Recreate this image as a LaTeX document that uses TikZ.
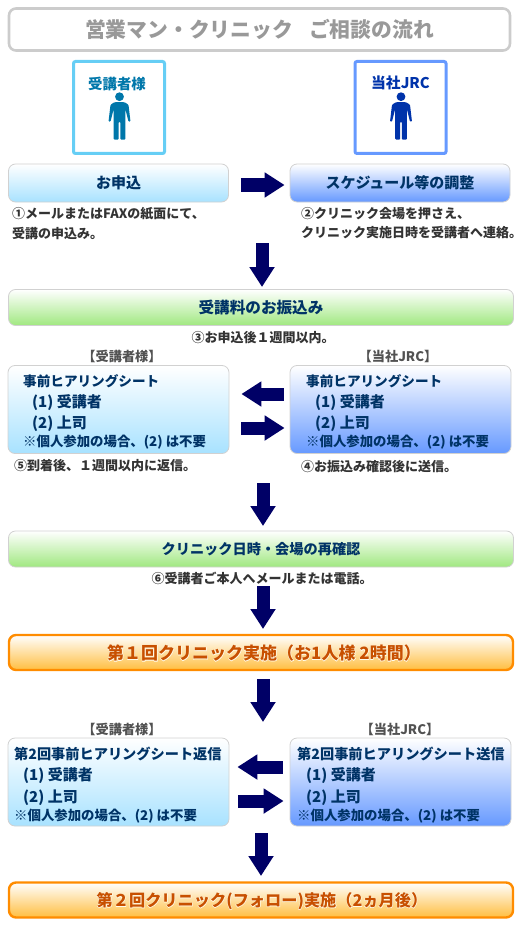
\documentclass[tikz,border=0pt]{standalone}
\usepackage{fontspec}
\setmainfont{Noto Sans CJK JP}
\usetikzlibrary{arrows.meta,calc}
\definecolor{navy}{HTML}{000066}
\definecolor{ink}{HTML}{003366}
\definecolor{cap}{HTML}{333333}
\definecolor{lightblue}{HTML}{A8E2FF}
\definecolor{midblue}{HTML}{6699FF}
\definecolor{leaf}{HTML}{A0E880}
\definecolor{amber}{HTML}{FFBE40}
\definecolor{orangeline}{HTML}{FF8C00}
\definecolor{burnt}{HTML}{C85000}
\definecolor{halo}{HTML}{FFFBEA}
\definecolor{teal}{HTML}{0077AA}
\definecolor{royal}{HTML}{0033AA}
\newcommand{\fsz}[1]{\fontsize{#1}{#1}\selectfont\bfseries}
\tikzset{
  base/.style={x=1pt,y=-1pt},
  panel/.style={rounded corners=7pt,draw=black!18,line width=.8pt,inner sep=0pt,font=\fsz{15},text=ink},
  bluepanel/.style={panel,top color=white,bottom color=lightblue},
  deeppanel/.style={panel,top color=white,bottom color=midblue},
  greenpanel/.style={panel,top color=white,bottom color=leaf},
  orangepanel/.style={rounded corners=7pt,draw=orangeline,line width=2.4pt,top color=white,bottom color=amber,inner sep=0pt},
  persona/.style={draw=#1,line width=3pt,rounded corners=2pt,minimum width=91pt,minimum height=92pt,inner sep=0pt},
  blockarrow/.style={draw=navy,line width=13pt,-{Triangle[length=20pt,width=24pt,fill=navy]}},
  caption/.style={inner sep=0pt,font=\fsz{13},text=cap},
  sheet/.style={inner sep=0pt,align=left,anchor=north west,text=ink,font=\fsz{14}},
  sidehead/.style={inner sep=0pt,font=\fsz{13.2},text=cap!85!white},
  clinic/.style={inner sep=0pt,font=\fsz{#1},text=burnt},
  clinichalo/.style={inner sep=0pt,font=\fsz{#1}\addfontfeature{FakeBold=5},text=halo},
}
\newcommand{\sheettext}[2]{{\fsz{#1}#2}\\[5.8pt]\hspace*{9pt}{\fsz{15}(1) 受講者}\\[4.8pt]\hspace*{9pt}{\fsz{15}(2) 上司}\\[2.2pt]{\fsz{13.4}※個人参加の場合、(2) は不要}}
\newcommand{\personfig}[3]{%
  \fill[#3] (#1,#2) circle (4.4pt);
  \fill[#3,rounded corners=1pt] (#1-5,#2+5.5) -- (#1+5,#2+5.5) -- (#1+9,#2+8) -- (#1+11,#2+25) -- (#1+9,#2+25) -- (#1+6,#2+13) -- (#1+5.8,#2+43) -- (#1+.8,#2+43) -- (#1+.8,#2+25) -- (#1-.8,#2+25) -- (#1-.8,#2+43) -- (#1-5.8,#2+43) -- (#1-6,#2+13) -- (#1-9,#2+25) -- (#1-11,#2+25) -- (#1-9,#2+8) -- cycle;
}
\begin{document}
\begin{tikzpicture}[base]
\useasboundingbox (0,0) rectangle (522,928);
% title
\node[draw=black!20,line width=2.6pt,rounded corners=7pt,minimum width=501pt,minimum height=42pt,inner sep=0pt,text=black!40,font=\fsz{20.8}] (title) at (259.5,29.5) {営業マン・クリニック\hspace{16pt}ご相談の流れ};
% persons
\node[persona={cyan!60!white}] (pa) at (119,107.5) {};
\node[persona=midblue] (pb) at (400.5,107.5) {};
\node[inner sep=0pt,font=\fsz{14.4},text=teal] (pal) at (117,84) {受講者様};
\node[inner sep=0pt,font=\fsz{14.8},text=royal] (pbl) at (400.5,83) {当社JRC};
\personfig{119.5}{96.7}{teal}
\personfig{401}{96.7}{royal}
% row 1
\node[bluepanel,minimum width=220pt,minimum height=38pt] (apply) at (118.5,183) {お申込};
\node[deeppanel,minimum width=220pt,minimum height=38pt] (adjust) at (400,183) {スケジュール等の調整};
\draw[blockarrow,shorten <=12pt,shorten >=5pt] ([yshift=-2pt]apply.east) -- ([yshift=-2pt]adjust.west);
\node[caption,anchor=west] (c1a) at (12,214) {①メールまたはFAXの紙面にて、};
\node[caption,anchor=west] (c1b) at (12,234) {受講の申込み。};
\node[caption,anchor=west] (c2a) at (301,214) {②クリニック会場を押さえ、};
\node[caption,anchor=west] (c2b) at (301,233) {クリニック実施日時を受講者へ連絡。};
% step 3
\coordinate (d1s) at (262,243);
\coordinate (d1e) at (262,287);
\draw[blockarrow] (d1s) -- (d1e);
\node[greenpanel,minimum width=505pt,minimum height=36pt,font=\fsz{15.6}] (pay) at (261,307.5) {受講料のお振込み};
\node[caption] (c3) at (263,338) {③お申込後１週間以内。};
\node[sidehead] (h1) at (122,356) {【受講者様】};
\node[sidehead] (h2) at (398,356) {【当社JRC】};
% sheets 1
\node[bluepanel,minimum width=221pt,minimum height=88pt] (s1l) at (118.5,409.5) {};
\node[deeppanel,minimum width=221pt,minimum height=88pt] (s1r) at (400.5,409.5) {};
\node[sheet] (t1l) at (23,374) {\sheettext{13.6}{事前ヒアリングシート}};
\node[sheet] (t1r) at (306,374) {\sheettext{13.6}{事前ヒアリングシート}};
\draw[blockarrow,shorten <=6pt,shorten >=12pt] ([yshift=15.5pt]s1r.west) -- ([yshift=15.5pt]s1l.east);
\draw[blockarrow,shorten <=12pt,shorten >=5pt] ([yshift=-18.5pt]s1l.east) -- ([yshift=-18.5pt]s1r.west);
\node[caption,anchor=west] (c5) at (14,466) {⑤到着後、１週間以内に返信。};
\node[caption,anchor=west] (c4) at (301,467) {④お振込み確認後に送信。};
\coordinate (d2s) at (263,483);
\coordinate (d2e) at (263,526);
\draw[blockarrow] (d2s) -- (d2e);
% step 6
\node[greenpanel,minimum width=505pt,minimum height=36pt,font=\fsz{14.2}] (conf) at (261,549) {クリニック日時・会場の再確認};
\node[caption] (c6) at (262,578) {⑥受講者ご本人へメールまたは電話。};
\coordinate (d3a) at (263,586);
\coordinate (d3b) at (263,629);
\draw[blockarrow] (d3a) -- (d3b);
% first clinic
\node[orangepanel,minimum width=504pt,minimum height=35pt] (first) at (261,652.5) {};
\node[clinichalo=17] (firsthalo) at (264,653) {第１回クリニック実施（お1人様 2時間）};
\node[clinic=17] (firstt) at (264,653) {第１回クリニック実施（お1人様 2時間）};
\coordinate (d4a) at (263,679);
\coordinate (d4b) at (263,722);
\draw[blockarrow] (d4a) -- (d4b);
\node[sidehead] (h3) at (122,729) {【受講者様】};
\node[sidehead] (h4) at (400,729) {【当社JRC】};
% sheets 2
\node[bluepanel,minimum width=221pt,minimum height=88pt] (s2l) at (118.5,782) {};
\node[deeppanel,minimum width=221pt,minimum height=88pt] (s2r) at (400.5,782) {};
\node[sheet] (t2l) at (14,747) {\sheettext{14.2}{第2回事前ヒアリングシート返信}};
\node[sheet] (t2r) at (297,747) {\sheettext{14.2}{第2回事前ヒアリングシート送信}};
\draw[blockarrow,shorten <=7pt,shorten >=8pt] ([yshift=15pt]s2r.west) -- ([yshift=15pt]s2l.east);
\draw[blockarrow,shorten <=9pt,shorten >=6pt] ([yshift=-19pt]s2l.east) -- ([yshift=-19pt]s2r.west);
\coordinate (d5a) at (261,833);
\coordinate (d5b) at (261,876);
\draw[blockarrow] (d5a) -- (d5b);
% second clinic
\node[orangepanel,minimum width=504pt,minimum height=35pt] (second) at (261,900) {};
\node[clinichalo=16.2] (secondhalo) at (262,901) {第２回クリニック(フォロー)実施（2ヵ月後）};
\node[clinic=16.2] (secondt) at (262,901) {第２回クリニック(フォロー)実施（2ヵ月後）};
\end{tikzpicture}
\end{document}
